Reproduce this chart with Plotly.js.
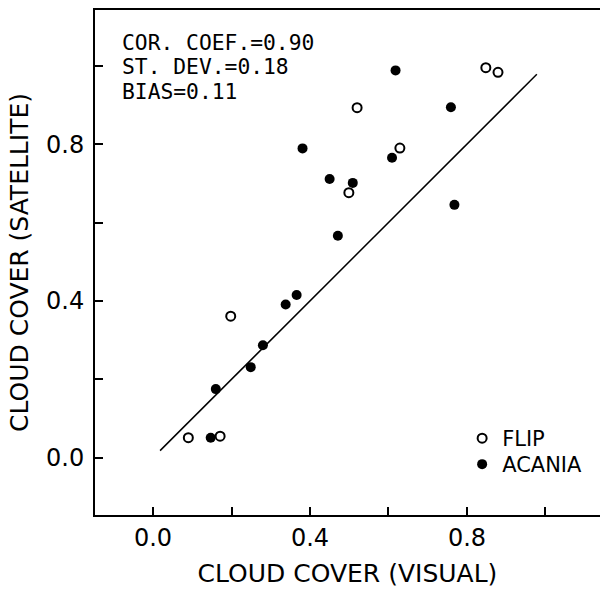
<!DOCTYPE html>
<html>
<head>
<meta charset="utf-8">
<script src="https://cdn.plot.ly/plotly-3.0.1.min.js"></script>
<style>html,body{margin:0;padding:0;background:#fff;}#chart{width:600px;height:589px;}</style>
</head>
<body>
<div id="chart"></div>
<script>
// FLIP (open circles)
const flipVisual    = [0.090, 0.171, 0.198, 0.499, 0.520, 0.629, 0.848, 0.879];
const flipSatellite = [0.051, 0.055, 0.361, 0.676, 0.893, 0.790, 0.995, 0.983];
// ACANIA (filled circles)
const acaniaVisual    = [0.147, 0.160, 0.249, 0.280, 0.338, 0.366, 0.381, 0.450, 0.509, 0.471, 0.618, 0.609, 0.759, 0.768];
const acaniaSatellite = [0.051, 0.175, 0.231, 0.287, 0.391, 0.415, 0.789, 0.711, 0.701, 0.566, 0.988, 0.765, 0.894, 0.645];
// reference line
const lineVisual    = [0.018, 0.978];
const lineSatellite = [0.018, 0.978];
// ticks
const tickValues = [0.0, 0.2, 0.4, 0.6, 0.8, 1.0];
const tickLabels = ['0.0', '', '0.4', '', '0.8', ''];
const statLines = ['COR. COEF.=0.90', 'ST. DEV.=0.18', 'BIAS=0.11'];

const FONT = 'DejaVu Sans, sans-serif';
const MONO = 'DejaVu Sans Mono, monospace';

const traces = [
  {x: lineVisual, y: lineSatellite, mode: 'lines', line: {color: '#000', width: 1.5}, showlegend: false, hoverinfo: 'skip'},
  {x: flipVisual, y: flipSatellite, mode: 'markers', name: 'FLIP', legend: 'legend',
   marker: {symbol: 'circle-open', size: 9, color: '#000', line: {color: '#000', width: 2}}},
  {x: acaniaVisual, y: acaniaSatellite, mode: 'markers', name: 'ACANIA', legend: 'legend2',
   marker: {symbol: 'circle', size: 10, color: '#000'}}
];

const statY = [0.9360, 0.8875, 0.8390];
const annotations = statLines.map((t, i) => ({
  text: t, xref: 'paper', yref: 'paper', x: 0.0515, y: statY[i],
  xanchor: 'left', yanchor: 'middle', showarrow: false, borderpad: 0,
  font: {family: MONO, size: 21.3, color: '#000'}
}));

const axisCommon = {
  tickvals: tickValues, ticktext: tickLabels,
  ticks: 'inside', ticklen: 8, tickwidth: 2, tickcolor: '#000',
  showline: true, linecolor: '#000', linewidth: 2,
  showgrid: false, zeroline: false,
  tickfont: {family: FONT, size: 24, color: '#000'}
};

const legendCommon = {xanchor: 'left', yanchor: 'top', bgcolor: 'rgba(0,0,0,0)',
  font: {family: FONT, size: 21, color: '#000'}, tracegroupgap: 0};

const layout = {
  width: 600, height: 589,
  margin: {l: 95, r: 0, t: 10, b: 74},
  paper_bgcolor: '#fff', plot_bgcolor: '#fff',
  font: {family: FONT, color: '#000'},
  xaxis: Object.assign({}, axisCommon, {
    range: [-0.1478, 1.1389], mirror: true,
    title: {text: 'CLOUD COVER (VISUAL)', font: {family: FONT, size: 25, color: '#000'}, standoff: 14}
  }),
  yaxis: Object.assign({}, axisCommon, {
    range: [-0.1462, 1.1421], ticklabelstandoff: 4,
    title: {text: 'CLOUD COVER (SATELLITE)', font: {family: FONT, size: 25, color: '#000'}, standoff: 10}
  }),
  legend: Object.assign({}, legendCommon, {x: 0.727, y: 0.192}),
  legend2: Object.assign({}, legendCommon, {x: 0.727, y: 0.1406}),
  annotations: annotations,
  showlegend: true
};

Plotly.newPlot('chart', traces, layout, {displayModeBar: false, staticPlot: true});
</script>
</body>
</html>
